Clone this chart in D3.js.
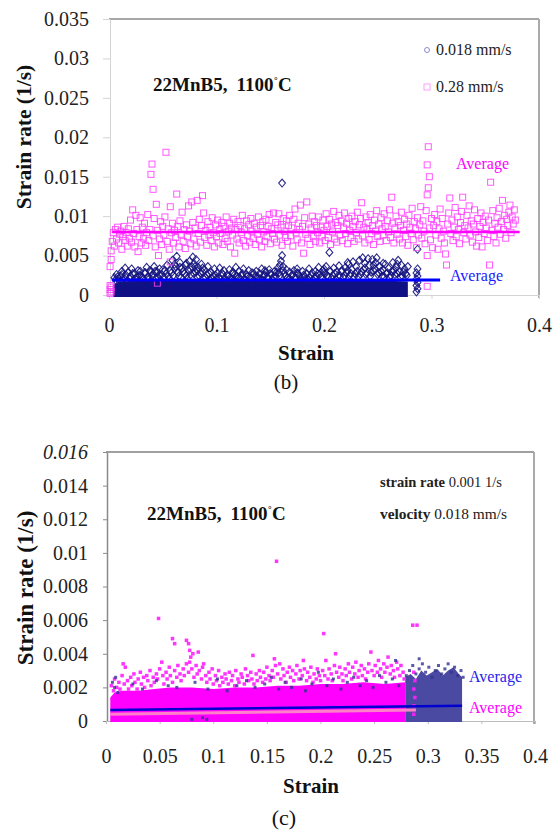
<!DOCTYPE html>
<html>
<head>
<meta charset="utf-8">
<script src="https://cdn.jsdelivr.net/npm/d3@7"></script>
<style>
  body { margin: 0; background: #fff; }
  svg { display: block; }
  svg text { font-family: "Liberation Serif", "DejaVu Serif", "Times New Roman", Times, serif !important; }
</style>
</head>
<body>
<svg id="chart" width="554" height="832"></svg>
<script>
// ---------- panel (b): 22MnB5, 1100 C, two ram velocities ----------
const xTicksB = [0, 0.1, 0.2, 0.3, 0.4];
const yTicksB = [0, 0.005, 0.01, 0.015, 0.02, 0.025, 0.03, 0.035];
const legendB = ['0.018 mm/s', '0.28 mm/s'];

// upper edge of the saturated 0.018 mm/s cloud [strain, strain rate]
const slowCoreB = [[0.004,0.0013],[0.01,0.0017],[0.03,0.0018],[0.06,0.0019],[0.09,0.0018],[0.12,0.0018],
  [0.15,0.0019],[0.18,0.0018],[0.21,0.0019],[0.24,0.0019],[0.26,0.0018],[0.278,0.0017]];

// 0.018 mm/s points above the saturated band
const slowPointsB = [
  [0.006,0.0019],[0.008,0.0023],[0.010,0.0017],[0.012,0.0026],[0.014,0.0021],[0.015,0.0034],[0.017,0.0018],[0.018,0.0029],
  [0.020,0.0024],[0.021,0.0033],[0.023,0.0019],[0.024,0.0027],[0.026,0.0022],[0.027,0.0017],[0.029,0.0030],[0.030,0.0024],
  [0.032,0.0020],[0.033,0.0028],[0.035,0.0035],[0.036,0.0023],[0.038,0.0031],[0.039,0.0018],[0.041,0.0027],[0.042,0.0036],
  [0.044,0.0021],[0.045,0.0029],[0.047,0.0025],[0.048,0.0019],[0.050,0.0032],[0.051,0.0022],[0.053,0.0027],[0.054,0.0038],
  [0.056,0.0020],[0.057,0.0031],[0.059,0.0044],[0.060,0.0025],[0.062,0.0036],[0.063,0.0049],[0.064,0.0029],[0.066,0.0041],
  [0.067,0.0022],[0.068,0.0034],[0.070,0.0027],[0.071,0.0038],[0.073,0.0020],[0.074,0.0031],[0.075,0.0043],[0.076,0.0026],
  [0.077,0.0036],[0.078,0.0048],[0.079,0.0040],[0.080,0.0030],[0.081,0.0045],[0.082,0.0023],[0.083,0.0035],[0.085,0.0028],
  [0.086,0.0039],[0.088,0.0021],[0.089,0.0032],[0.091,0.0026],[0.092,0.0036],[0.094,0.0019],[0.095,0.0029],[0.097,0.0024],
  [0.098,0.0033],[0.100,0.0021],[0.101,0.0028],[0.103,0.0034],[0.104,0.0020],[0.106,0.0026],[0.107,0.0031],[0.109,0.0018],
  [0.110,0.0025],[0.112,0.0032],[0.113,0.0022],[0.115,0.0029],[0.116,0.0019],[0.118,0.0035],[0.119,0.0024],[0.121,0.0030],
  [0.122,0.0021],[0.124,0.0027],[0.125,0.0033],[0.127,0.0019],[0.128,0.0026],[0.130,0.0031],[0.131,0.0023],[0.133,0.0028],
  [0.134,0.0018],[0.136,0.0024],[0.137,0.0030],[0.139,0.0021],[0.140,0.0027],[0.142,0.0033],[0.143,0.0019],[0.145,0.0025],
  [0.146,0.0029],[0.148,0.0022],[0.149,0.0032],[0.151,0.0026],[0.152,0.0020],[0.154,0.0030],[0.155,0.0024],[0.157,0.0034],
  [0.158,0.0028],[0.159,0.0038],[0.160,0.0043],[0.161,0.0050],[0.161,0.0142],[0.162,0.0036],[0.163,0.0027],[0.165,0.0032],
  [0.166,0.0022],[0.168,0.0029],[0.169,0.0019],[0.171,0.0026],[0.172,0.0031],[0.174,0.0021],[0.175,0.0028],[0.177,0.0024],
  [0.178,0.0018],[0.180,0.0030],[0.181,0.0025],[0.183,0.0020],[0.184,0.0027],[0.186,0.0033],[0.187,0.0022],[0.189,0.0028],
  [0.190,0.0019],[0.192,0.0030],[0.193,0.0024],[0.195,0.0035],[0.196,0.0026],[0.198,0.0021],[0.199,0.0031],[0.201,0.0027],
  [0.202,0.0036],[0.204,0.0023],[0.205,0.0054],[0.206,0.0030],[0.208,0.0025],[0.209,0.0034],[0.211,0.0020],[0.212,0.0029],
  [0.214,0.0037],[0.215,0.0024],[0.217,0.0031],[0.218,0.0022],[0.220,0.0035],[0.221,0.0028],[0.223,0.0039],[0.224,0.0025],
  [0.226,0.0032],[0.227,0.0042],[0.229,0.0027],[0.230,0.0036],[0.232,0.0023],[0.233,0.0044],[0.235,0.0030],[0.236,0.0047],
  [0.238,0.0034],[0.239,0.0026],[0.241,0.0046],[0.242,0.0038],[0.244,0.0029],[0.245,0.0045],[0.247,0.0033],[0.248,0.0041],
  [0.249,0.0047],[0.251,0.0028],[0.252,0.0036],[0.254,0.0024],[0.255,0.0032],[0.257,0.0039],[0.258,0.0027],[0.260,0.0034],
  [0.261,0.0022],[0.263,0.0030],[0.264,0.0041],[0.266,0.0026],[0.267,0.0035],[0.269,0.0044],[0.270,0.0029],[0.272,0.0038],
  [0.273,0.0024],[0.275,0.0033],[0.276,0.0027],[0.278,0.0036],
  [0.005,0.0022],[0.007,0.0026],[0.009,0.0021],[0.011,0.0024],[0.013,0.0019],[0.016,0.0025],[0.019,0.0021],[0.022,0.0027],
  [0.025,0.0020],[0.028,0.0025],[0.031,0.0022],[0.034,0.0028],[0.037,0.0020],[0.040,0.0024],[0.043,0.0030],[0.046,0.0022],
  [0.049,0.0026],[0.052,0.0031],[0.055,0.0024],[0.058,0.0028],[0.061,0.0033],[0.065,0.0024],[0.069,0.0030],[0.072,0.0025],
  [0.076,0.0032],[0.079,0.0027],[0.082,0.0031],[0.084,0.0024],[0.087,0.0029],[0.090,0.0022],[0.093,0.0027],[0.096,0.0021],
  [0.099,0.0025],[0.102,0.0022],[0.105,0.0028],[0.108,0.0021],[0.111,0.0024],[0.114,0.0020],[0.117,0.0026],[0.120,0.0022],
  [0.123,0.0025],[0.126,0.0020],[0.129,0.0024],[0.132,0.0021],[0.135,0.0027],[0.138,0.0023],[0.141,0.0020],[0.144,0.0025],
  [0.147,0.0022],[0.150,0.0027],[0.153,0.0023],[0.156,0.0029],[0.159,0.0025],[0.162,0.0031],[0.164,0.0024],[0.167,0.0020],
  [0.170,0.0025],[0.173,0.0022],[0.176,0.0027],[0.179,0.0021],[0.182,0.0024],[0.185,0.0020],[0.188,0.0025],[0.191,0.0022],
  [0.194,0.0027],[0.197,0.0023],[0.200,0.0029],[0.203,0.0025],[0.207,0.0021],[0.210,0.0027],[0.213,0.0024],[0.216,0.0030],
  [0.219,0.0025],[0.222,0.0031],[0.225,0.0027],[0.228,0.0023],[0.231,0.0030],[0.234,0.0026],[0.237,0.0032],[0.240,0.0028],
  [0.243,0.0024],[0.246,0.0031],[0.250,0.0026],[0.253,0.0030],[0.256,0.0023],[0.259,0.0028],[0.262,0.0025],[0.265,0.0031],
  [0.268,0.0027],[0.271,0.0023],[0.274,0.0029],[0.277,0.0025],
  [0.012,0.0030],[0.027,0.0031],[0.039,0.0029],[0.047,0.0033],[0.061,0.0039],[0.066,0.0035],[0.072,0.0040],[0.080,0.0036],
  [0.087,0.0034],[0.115,0.0027],[0.145,0.0031],[0.175,0.0033],[0.200,0.0033],[0.222,0.0041],[0.238,0.0040],[0.246,0.0038],
  [0.255,0.0040],[0.268,0.0039],
  [0.286,0.0004],[0.287,0.0008],[0.286,0.0012],[0.287,0.0016],[0.286,0.0020],[0.287,0.0024],[0.286,0.0028],[0.287,0.0033],
  [0.287,0.0058]
];

// 0.28 mm/s points
const fastPointsB = [
  [0.001,0.0002],[0.001,0.0007],[0.001,0.0012],[0.002,0.0004],[0.002,0.0010],
  [0.001,0.0036],[0.002,0.0056],[0.002,0.0045],[0.003,0.0068],[0.004,0.0079],[0.005,0.0062],[0.006,0.0083],[0.007,0.0071],
  [0.008,0.0086],[0.009,0.0066],[0.010,0.0077],[0.011,0.0081],[0.012,0.0058],[0.013,0.0074],[0.014,0.0087],[0.015,0.0069],
  [0.016,0.0079],[0.017,0.0062],[0.018,0.0084],[0.019,0.0072],[0.020,0.0095],[0.021,0.0067],[0.022,0.0108],[0.023,0.0078],
  [0.024,0.0061],[0.025,0.0101],[0.026,0.0083],[0.027,0.0055],[0.028,0.0074],[0.029,0.0098],[0.030,0.0066],[0.031,0.0086],
  [0.032,0.0072],[0.033,0.0091],[0.034,0.0063],[0.035,0.0079],[0.036,0.0102],[0.037,0.0069],[0.038,0.0083],[0.039,0.0153],
  [0.040,0.0166],[0.041,0.0134],[0.041,0.0075],[0.042,0.0097],[0.043,0.0061],[0.044,0.0115],[0.045,0.0015],[0.045,0.0082],
  [0.046,0.0050],[0.047,0.0071],[0.048,0.0093],[0.049,0.0064],[0.050,0.0087],[0.051,0.0076],[0.052,0.0099],[0.053,0.0181],
  [0.054,0.0068],[0.055,0.0084],[0.056,0.0058],[0.057,0.0112],[0.057,0.0042],[0.058,0.0079],[0.059,0.0091],[0.060,0.0066],
  [0.061,0.0082],[0.062,0.0073],[0.063,0.0128],[0.064,0.0087],[0.065,0.0061],[0.066,0.0094],[0.067,0.0077],[0.068,0.0105],
  [0.069,0.0068],[0.070,0.0083],[0.071,0.0059],[0.072,0.0089],[0.073,0.0074],[0.074,0.0113],[0.075,0.0081],[0.076,0.0065],
  [0.077,0.0118],[0.078,0.0092],[0.079,0.0071],[0.080,0.0085],[0.081,0.0062],[0.082,0.0120],[0.083,0.0078],[0.084,0.0096],
  [0.085,0.0067],[0.086,0.0088],[0.087,0.0126],[0.088,0.0104],[0.089,0.0073],[0.090,0.0082],[0.091,0.0063],[0.092,0.0093],
  [0.093,0.0076],[0.094,0.0086],[0.095,0.0069],[0.096,0.0098],[0.097,0.0079],[0.098,0.0061],[0.099,0.0089],[0.100,0.0074],
  [0.101,0.0095],[0.102,0.0066],[0.103,0.0083],[0.104,0.0078],[0.105,0.0092],[0.106,0.0064],[0.107,0.0087],[0.108,0.0072],
  [0.109,0.0099],[0.110,0.0068],[0.111,0.0081],[0.112,0.0091],[0.113,0.0061],[0.114,0.0085],[0.115,0.0076],[0.116,0.0096],
  [0.117,0.0053],[0.118,0.0083],[0.119,0.0071],[0.120,0.0093],[0.121,0.0066],[0.122,0.0088],[0.123,0.0079],[0.124,0.0101],
  [0.125,0.0069],[0.126,0.0084],[0.127,0.0062],[0.128,0.0094],[0.129,0.0075],[0.130,0.0089],[0.131,0.0067],[0.132,0.0097],
  [0.133,0.0081],[0.134,0.0072],[0.135,0.0091],[0.136,0.0064],[0.137,0.0086],[0.138,0.0077],[0.139,0.0099],[0.140,0.0070],
  [0.141,0.0088],[0.142,0.0061],[0.143,0.0093],[0.144,0.0080],[0.145,0.0068],[0.146,0.0096],[0.147,0.0074],[0.148,0.0087],
  [0.149,0.0102],[0.150,0.0065],[0.151,0.0084],[0.152,0.0078],[0.153,0.0104],[0.154,0.0071],[0.155,0.0092],[0.156,0.0067],
  [0.157,0.0089],[0.158,0.0103],[0.159,0.0076],[0.160,0.0086],[0.161,0.0063],[0.162,0.0097],[0.163,0.0081],[0.164,0.0073],
  [0.165,0.0094],[0.166,0.0068],[0.167,0.0088],[0.168,0.0101],[0.169,0.0075],[0.170,0.0085],[0.171,0.0062],[0.172,0.0096],
  [0.173,0.0109],[0.174,0.0079],[0.175,0.0070],[0.176,0.0091],[0.177,0.0083],[0.178,0.0114],[0.179,0.0066],[0.180,0.0087],
  [0.181,0.0053],[0.182,0.0098],[0.183,0.0077],[0.184,0.0118],[0.185,0.0072],[0.186,0.0090],[0.187,0.0064],[0.188,0.0085],
  [0.189,0.0100],[0.190,0.0074],[0.191,0.0093],[0.192,0.0068],[0.193,0.0088],[0.194,0.0079],[0.195,0.0099],[0.196,0.0066],
  [0.197,0.0086],[0.198,0.0075],[0.199,0.0095],[0.200,0.0082],[0.201,0.0069],[0.202,0.0103],[0.203,0.0087],[0.204,0.0073],
  [0.205,0.0096],[0.206,0.0064],[0.207,0.0090],[0.208,0.0080],[0.209,0.0106],[0.210,0.0071],[0.211,0.0092],[0.212,0.0067],
  [0.213,0.0088],[0.214,0.0101],[0.215,0.0076],[0.216,0.0094],[0.217,0.0069],[0.218,0.0085],[0.219,0.0104],[0.220,0.0078],
  [0.221,0.0091],[0.222,0.0065],[0.223,0.0097],[0.224,0.0082],[0.225,0.0073],[0.226,0.0100],[0.227,0.0087],[0.228,0.0068],
  [0.229,0.0093],[0.230,0.0079],[0.231,0.0105],[0.232,0.0071],[0.233,0.0089],[0.234,0.0097],[0.235,0.0117],[0.236,0.0075],
  [0.237,0.0086],[0.238,0.0066],[0.239,0.0099],[0.240,0.0083],[0.241,0.0092],[0.242,0.0070],[0.243,0.0102],[0.244,0.0078],
  [0.245,0.0088],[0.246,0.0064],[0.247,0.0095],[0.248,0.0081],[0.249,0.0107],[0.250,0.0074],[0.251,0.0090],[0.252,0.0068],
  [0.253,0.0098],[0.254,0.0084],[0.255,0.0076],[0.256,0.0103],[0.257,0.0087],[0.258,0.0069],[0.259,0.0094],[0.260,0.0080],
  [0.261,0.0108],[0.262,0.0073],[0.263,0.0124],[0.264,0.0091],[0.265,0.0066],[0.266,0.0085],[0.267,0.0100],[0.268,0.0077],
  [0.269,0.0093],[0.270,0.0071],[0.271,0.0088],[0.272,0.0105],[0.273,0.0066],[0.274,0.0082],[0.275,0.0096],[0.276,0.0074],
  [0.277,0.0090],[0.278,0.0063],[0.279,0.0101],[0.280,0.0086],[0.281,0.0078],[0.282,0.0110],[0.283,0.0070],[0.284,0.0093],
  [0.285,0.0084],[0.286,0.0060],[0.287,0.0098],[0.288,0.0076],[0.289,0.0089],[0.290,0.0112],[0.291,0.0072],[0.292,0.0094],
  [0.293,0.0081],[0.294,0.0065],[0.295,0.0107],[0.296,0.0127],[0.296,0.0050],[0.296,0.0011],[0.296,0.0165],[0.297,0.0136],
  [0.297,0.0188],[0.298,0.0150],[0.298,0.0085],[0.299,0.0070],[0.300,0.0097],[0.301,0.0060],[0.302,0.0088],[0.303,0.0102],
  [0.304,0.0076],[0.305,0.0093],[0.306,0.0058],[0.307,0.0084],[0.308,0.0109],[0.309,0.0072],[0.310,0.0097],[0.311,0.0081],
  [0.312,0.0066],[0.313,0.0052],[0.314,0.0038],[0.315,0.0090],[0.316,0.0104],[0.317,0.0123],[0.318,0.0078],[0.319,0.0095],
  [0.320,0.0069],[0.321,0.0086],[0.322,0.0111],[0.323,0.0074],[0.324,0.0099],[0.325,0.0083],[0.326,0.0065],[0.327,0.0092],
  [0.328,0.0106],[0.329,0.0124],[0.330,0.0079],[0.331,0.0088],[0.332,0.0071],[0.333,0.0101],[0.334,0.0085],[0.335,0.0113],
  [0.336,0.0076],[0.337,0.0094],[0.338,0.0067],[0.339,0.0090],[0.340,0.0108],[0.341,0.0080],[0.342,0.0062],[0.343,0.0097],
  [0.344,0.0073],[0.345,0.0087],[0.346,0.0104],[0.347,0.0061],[0.348,0.0092],[0.349,0.0078],[0.350,0.0100],[0.351,0.0085],
  [0.352,0.0069],[0.353,0.0095],[0.354,0.0038],[0.355,0.0143],[0.356,0.0082],[0.357,0.0107],[0.358,0.0074],[0.359,0.0091],
  [0.360,0.0066],[0.361,0.0098],[0.362,0.0086],[0.363,0.0110],[0.364,0.0077],[0.365,0.0093],[0.366,0.0120],[0.367,0.0083],
  [0.368,0.0101],[0.369,0.0072],[0.370,0.0096],[0.371,0.0088],[0.372,0.0105],[0.373,0.0114],[0.374,0.0079],[0.375,0.0099],
  [0.376,0.0090],[0.377,0.0108],[0.378,0.0095]
];

const slowAvgB = [[0.003, 0.0019], [0.308, 0.0019]];
const fastAvgB = [[0.003, 0.008], [0.382, 0.008]];

// ---------- panel (c): same strain rate 0.001 1/s, velocity 0.018 mm/s ----------
const xTicksC = [0, 0.05, 0.1, 0.15, 0.2, 0.25, 0.3, 0.35, 0.4];
const yTicksC = [0, 0.002, 0.004, 0.006, 0.008, 0.01, 0.012, 0.014, 0.016];

// upper edge of the saturated magenta cloud
const fastCoreC = [[0.004,0.0014],[0.008,0.0017],[0.015,0.0018],[0.03,0.0018],[0.045,0.0019],[0.06,0.0020],[0.08,0.0020],
  [0.1,0.0019],[0.12,0.0020],[0.14,0.0020],[0.16,0.0021],[0.18,0.0021],[0.2,0.0022],[0.22,0.0022],[0.24,0.0023],
  [0.26,0.0022],[0.279,0.0023]];
// upper edge of the blue cloud beyond the end of the magenta one
const slowCoreC = [[0.279,0.0026],[0.284,0.0028],[0.289,0.0025],[0.294,0.0030],[0.299,0.0027],[0.304,0.0029],[0.309,0.0031],
  [0.314,0.0027],[0.319,0.0030],[0.324,0.0032],[0.329,0.0028],[0.332,0.0026]];

const fastPointsC = [
  [0.005,0.0021],[0.007,0.0018],[0.008,0.0025],[0.010,0.0020],[0.012,0.0023],[0.013,0.0019],[0.015,0.0027],[0.016,0.0034],
  [0.017,0.0022],[0.018,0.0032],[0.020,0.0024],[0.021,0.0019],[0.023,0.0026],[0.024,0.0021],[0.026,0.0028],[0.027,0.0023],
  [0.029,0.0019],[0.030,0.0025],[0.032,0.0029],[0.033,0.0022],[0.035,0.0026],[0.036,0.0020],[0.038,0.0027],[0.039,0.0024],
  [0.041,0.0030],[0.042,0.0021],[0.044,0.0026],[0.045,0.0023],[0.047,0.0028],[0.048,0.0025],[0.049,0.0061],[0.050,0.0031],
  [0.052,0.0035],[0.053,0.0027],[0.054,0.0022],[0.056,0.0029],[0.057,0.0025],[0.059,0.0032],[0.060,0.0027],[0.062,0.0049],
  [0.062,0.0023],[0.064,0.0046],[0.064,0.0030],[0.066,0.0026],[0.067,0.0033],[0.069,0.0028],[0.070,0.0024],[0.072,0.0031],
  [0.073,0.0027],[0.075,0.0048],[0.075,0.0034],[0.077,0.0046],[0.077,0.0029],[0.078,0.0042],[0.078,0.0035],[0.079,0.0038],
  [0.080,0.0031],[0.081,0.0040],[0.082,0.0026],[0.084,0.0033],[0.085,0.0028],[0.086,0.0041],[0.087,0.0030],[0.089,0.0025],
  [0.090,0.0032],[0.091,0.0034],[0.093,0.0027],[0.094,0.0023],[0.096,0.0029],[0.097,0.0025],[0.099,0.0031],[0.100,0.0022],
  [0.102,0.0027],[0.103,0.0024],[0.105,0.0030],[0.106,0.0021],[0.108,0.0026],[0.109,0.0023],[0.111,0.0028],[0.112,0.0025],
  [0.114,0.0022],[0.115,0.0029],[0.117,0.0024],[0.118,0.0027],[0.120,0.0021],[0.121,0.0030],[0.123,0.0025],[0.124,0.0023],
  [0.126,0.0028],[0.127,0.0026],[0.129,0.0022],[0.130,0.0031],[0.132,0.0027],[0.133,0.0024],[0.135,0.0029],[0.136,0.0025],
  [0.137,0.0039],[0.138,0.0022],[0.140,0.0028],[0.141,0.0024],[0.143,0.0030],[0.144,0.0026],[0.146,0.0023],[0.147,0.0029],
  [0.149,0.0025],[0.150,0.0032],[0.152,0.0027],[0.153,0.0024],[0.155,0.0030],[0.156,0.0026],[0.157,0.0037],[0.158,0.0033],
  [0.159,0.0095],[0.160,0.0028],[0.162,0.0034],[0.163,0.0025],[0.165,0.0031],[0.166,0.0027],[0.168,0.0023],[0.169,0.0029],
  [0.171,0.0032],[0.172,0.0026],[0.174,0.0030],[0.175,0.0024],[0.177,0.0028],[0.178,0.0033],[0.180,0.0025],[0.181,0.0030],
  [0.183,0.0027],[0.184,0.0036],[0.185,0.0031],[0.187,0.0024],[0.188,0.0029],[0.190,0.0026],[0.191,0.0032],[0.193,0.0023],
  [0.194,0.0028],[0.196,0.0025],[0.197,0.0031],[0.199,0.0027],[0.200,0.0024],[0.202,0.0030],[0.203,0.0052],[0.204,0.0027],
  [0.205,0.0036],[0.207,0.0025],[0.208,0.0031],[0.210,0.0028],[0.211,0.0024],[0.213,0.0033],[0.214,0.0040],[0.215,0.0029],
  [0.217,0.0026],[0.218,0.0032],[0.220,0.0028],[0.221,0.0024],[0.223,0.0031],[0.224,0.0027],[0.226,0.0034],[0.227,0.0029],
  [0.229,0.0025],[0.230,0.0032],[0.232,0.0028],[0.233,0.0035],[0.235,0.0026],[0.236,0.0030],[0.238,0.0033],[0.239,0.0027],
  [0.241,0.0031],[0.242,0.0025],[0.244,0.0029],[0.245,0.0034],[0.247,0.0041],[0.248,0.0030],[0.250,0.0027],[0.251,0.0033],
  [0.253,0.0029],[0.254,0.0036],[0.256,0.0031],[0.257,0.0026],[0.259,0.0034],[0.260,0.0029],[0.262,0.0032],[0.263,0.0038],
  [0.265,0.0028],[0.266,0.0033],[0.268,0.0030],[0.269,0.0026],[0.271,0.0035],[0.272,0.0031],[0.274,0.0027],[0.275,0.0033],
  [0.277,0.0029],[0.278,0.0025],
  [0.287,0.0004],[0.287,0.0009],[0.288,0.0014],[0.287,0.0019],[0.288,0.0024],[0.287,0.0029],[0.286,0.0057],[0.290,0.0057]
];

const slowPointsC = [
  [0.006,0.0023],[0.008,0.0020],[0.009,0.0026],[0.011,0.0017],[0.025,0.0022],[0.034,0.0019],[0.047,0.0024],[0.058,0.0021],
  [0.066,0.0020],[0.083,0.0023],[0.095,0.0019],[0.104,0.0025],[0.113,0.0018],[0.122,0.0021],[0.131,0.0024],[0.139,0.0020],
  [0.148,0.0022],[0.154,0.0026],[0.161,0.0019],[0.167,0.0023],[0.173,0.0020],[0.182,0.0025],[0.186,0.0018],[0.192,0.0022],
  [0.198,0.0029],[0.206,0.0021],[0.212,0.0025],[0.219,0.0019],[0.225,0.0023],[0.231,0.0026],[0.237,0.0021],[0.243,0.0024],
  [0.249,0.0020],[0.255,0.0027],[0.261,0.0023],[0.267,0.0025],[0.273,0.0021],[0.270,0.0036],
  [0.080,0.0001],[0.090,0.0002],[0.094,0.0001],
  [0.280,0.0027],[0.283,0.0030],[0.286,0.0033],[0.289,0.0028],[0.292,0.0031],[0.292,0.0037],[0.295,0.0034],[0.298,0.0029],
  [0.301,0.0032],[0.304,0.0026],[0.307,0.0030],[0.310,0.0033],[0.313,0.0028],[0.316,0.0031],[0.319,0.0034],[0.322,0.0029],
  [0.325,0.0032],[0.328,0.0027],[0.331,0.0030],[0.333,0.0026]
];

const slowAvgC = [[0.004, 0.00065], [0.332, 0.0009]];
const fastAvgC = [[0.004, 0.0004], [0.289, 0.00065]];

const svg = d3.select('#chart');
const serif = '"Liberation Serif", "DejaVu Serif", "Times New Roman", Times, serif';
const fmt = d3.format('~g');
const line = (x, y) => d3.line().x(d => x(d[0])).y(d => y(d[1]));
const diamond = 'M0,-4L3.4,0L0,4L-3.4,0Z';

// ===================== panel (b) =====================
const xB = d3.scaleLinear().domain([0, 0.4]).range([109, 539]);
const yB = d3.scaleLinear().domain([0, 0.035]).range([295, 19]);

// frame: top and right
svg.append('line').attr('x1', xB(0)).attr('x2', xB(0.4)).attr('y1', yB(0.035)).attr('y2', yB(0.035))
  .attr('stroke', '#888').attr('stroke-width', 1.5);
svg.append('line').attr('x1', xB(0.4)).attr('x2', xB(0.4)).attr('y1', yB(0.035)).attr('y2', yB(0) + 3)
  .attr('stroke', '#aaa').attr('stroke-width', 2);

const yAxisB = svg.append('g').attr('transform', `translate(${xB(0) + 1},0)`)
  .call(d3.axisLeft(yB).tickValues(yTicksB).tickFormat(fmt).tickSize(7).tickPadding(14).tickSizeOuter(0));
const xAxisB = svg.append('g').attr('transform', `translate(0,${yB(0)})`)
  .call(d3.axisBottom(xB).tickValues(xTicksB).tickFormat(fmt).tickSize(4).tickPadding(19).tickSizeOuter(0));
[yAxisB, xAxisB].forEach(g => {
  g.attr('font-family', serif);
  g.select('.domain').attr('stroke', '#d4d4d4');
  g.selectAll('.tick line').attr('stroke', '#d4d4d4');
  g.selectAll('.tick text').attr('font-size', 20).attr('fill', '#222');
});

// 0.018 mm/s
svg.append('path').datum(slowCoreB)
  .attr('d', d3.area().x(d => xB(d[0])).y0(yB(0) + 2).y1(d => yB(d[1])))
  .attr('fill', '#101085');
svg.append('g').selectAll('path').data(slowPointsB).enter().append('path')
  .attr('transform', d => `translate(${xB(d[0])},${yB(d[1])})`)
  .attr('d', diamond).attr('fill', 'none').attr('stroke', '#15157f').attr('stroke-width', 1.1).attr('stroke-opacity', 0.9);

// 0.28 mm/s
svg.append('g').selectAll('rect').data(fastPointsB).enter().append('rect')
  .attr('x', d => xB(d[0]) - 3).attr('y', d => yB(d[1]) - 3)
  .attr('width', 6).attr('height', 6)
  .attr('fill', 'none').attr('stroke', '#ff3cff').attr('stroke-width', 1).attr('stroke-opacity', 0.85);

// averages
svg.append('path').datum(fastAvgB).attr('d', line(xB, yB)).attr('stroke', '#ff00ff').attr('stroke-width', 2.5).attr('fill', 'none');
svg.append('path').datum(slowAvgB).attr('d', line(xB, yB)).attr('stroke', '#0000ff').attr('stroke-width', 3).attr('fill', 'none');

// legend
svg.append('circle').attr('cx', 427).attr('cy', 50).attr('r', 2.5).attr('fill', 'none').attr('stroke', '#8c8cd0');
svg.append('rect').attr('x', 424).attr('y', 84).attr('width', 6).attr('height', 6).attr('fill', 'none').attr('stroke', '#ff9cff');
svg.append('text').attr('x', 436).attr('y', 55).attr('font-size', 16).attr('fill', '#222').text(legendB[0]);
svg.append('text').attr('x', 436).attr('y', 92).attr('font-size', 16).attr('fill', '#222').text(legendB[1]);

svg.append('text').attr('x', 456).attr('y', 169).attr('font-size', 16).attr('fill', '#ff00ff').text('Average');
svg.append('text').attr('x', 450).attr('y', 281).attr('font-size', 16).attr('fill', '#1a1aff').text('Average');

const titleB = svg.append('text').attr('x', 153).attr('y', 91).attr('font-size', 19).attr('font-weight', 'bold').attr('fill', '#111');
titleB.append('tspan').text('22MnB5,');
titleB.append('tspan').attr('dx', 9).text('1100');
titleB.append('tspan').attr('font-weight', 'normal').attr('font-size', 14).attr('dy', -3).text('˚');
titleB.append('tspan').attr('dy', 3).text('C');

svg.append('text').attr('transform', 'translate(31,137) rotate(-90)').attr('text-anchor', 'middle')
  .attr('font-size', 21.5).attr('font-weight', 'bold').attr('fill', '#111').text('Strain rate (1/s)');
svg.append('text').attr('x', 306).attr('y', 360).attr('text-anchor', 'middle')
  .attr('font-size', 21).attr('font-weight', 'bold').attr('fill', '#111').text('Strain');
svg.append('text').attr('x', 286).attr('y', 389).attr('text-anchor', 'middle')
  .attr('font-size', 21).attr('fill', '#111').text('(b)');

// ===================== panel (c) =====================
const xC = d3.scaleLinear().domain([0, 0.4]).range([106, 535]);
const yC = d3.scaleLinear().domain([0, 0.016]).range([721, 452]);

svg.append('line').attr('x1', xC(0)).attr('x2', xC(0.4) - 1).attr('y1', yC(0.016)).attr('y2', yC(0.016))
  .attr('stroke', '#a0a0a0').attr('stroke-width', 2);
svg.append('line').attr('x1', xC(0.4) - 1).attr('x2', xC(0.4) - 1).attr('y1', yC(0.016)).attr('y2', yC(0) + 3)
  .attr('stroke', '#aaa').attr('stroke-width', 2);

const yAxisC = svg.append('g').attr('transform', `translate(${xC(0) + 1},0)`)
  .call(d3.axisLeft(yC).tickValues(yTicksC).tickFormat(fmt).tickSize(4).tickPadding(15).tickSizeOuter(0));
const xAxisC = svg.append('g').attr('transform', `translate(0,${yC(0)})`)
  .call(d3.axisBottom(xC).tickValues(xTicksC).tickFormat(fmt).tickSize(3).tickPadding(25).tickSizeOuter(0));
yAxisC.select('.domain').attr('stroke', '#8a8a8a').attr('stroke-width', 1.5);
yAxisC.selectAll('.tick line').attr('stroke', '#8a8a8a');
xAxisC.select('.domain').attr('stroke', '#bbb');
xAxisC.selectAll('.tick line').attr('stroke', '#bbb');
[yAxisC, xAxisC].forEach(g => {
  g.attr('font-family', serif);
  g.selectAll('.tick text').attr('font-size', 20).attr('fill', '#222');
});
yAxisC.selectAll('.tick text').filter(d => d === 0.016).attr('font-style', 'italic');

// blue cloud (0.018 mm/s) then magenta cloud
svg.append('path').datum(slowCoreC)
  .attr('d', d3.area().x(d => xC(d[0])).y0(yC(0) + 1).y1(d => yC(d[1])))
  .attr('fill', '#4a4aa2');
svg.append('path').datum(fastCoreC)
  .attr('d', d3.area().x(d => xC(d[0])).y0(yC(0) + 1).y1(d => yC(d[1])))
  .attr('fill', '#ff00ff');
svg.append('g').selectAll('rect').data(fastPointsC).enter().append('rect')
  .attr('x', d => xC(d[0]) - 1.75).attr('y', d => yC(d[1]) - 1.75)
  .attr('width', 3.5).attr('height', 3.5).attr('fill', '#ff1eff').attr('fill-opacity', 0.9);
svg.append('g').selectAll('rect').data(slowPointsC).enter().append('rect')
  .attr('x', d => xC(d[0]) - 1.5).attr('y', d => yC(d[1]) - 1.5)
  .attr('width', 3).attr('height', 3).attr('fill', '#32328f').attr('fill-opacity', 0.8);

svg.append('path').datum(slowAvgC).attr('d', line(xC, yC)).attr('stroke', '#0000d0').attr('stroke-width', 2.5).attr('fill', 'none');
svg.append('path').datum(fastAvgC).attr('d', line(xC, yC)).attr('stroke', '#ff80c8').attr('stroke-width', 3).attr('fill', 'none');

svg.append('text').attr('x', 469).attr('y', 682).attr('font-size', 16).attr('fill', '#2525e8').text('Average');
svg.append('text').attr('x', 469).attr('y', 713).attr('font-size', 16).attr('fill', '#ff00ff').text('Average');

const noteC1 = svg.append('text').attr('x', 380).attr('y', 487).attr('font-size', 14).attr('fill', '#222')
  .attr('textLength', 122).attr('lengthAdjust', 'spacingAndGlyphs');
noteC1.append('tspan').attr('font-weight', 'bold').text('strain rate ');
noteC1.append('tspan').text('0.001 1/s');
const noteC2 = svg.append('text').attr('x', 380).attr('y', 519).attr('font-size', 14).attr('fill', '#222')
  .attr('textLength', 127).attr('lengthAdjust', 'spacingAndGlyphs');
noteC2.append('tspan').attr('font-weight', 'bold').text('velocity ');
noteC2.append('tspan').text('0.018 mm/s');

const titleC = svg.append('text').attr('x', 147).attr('y', 520).attr('font-size', 19).attr('font-weight', 'bold').attr('fill', '#111');
titleC.append('tspan').text('22MnB5,');
titleC.append('tspan').attr('dx', 9).text('1100');
titleC.append('tspan').attr('font-weight', 'normal').attr('font-size', 14).attr('dy', -3).text('˚');
titleC.append('tspan').attr('dy', 3).text('C');

svg.append('text').attr('transform', 'translate(33,588) rotate(-90)').attr('text-anchor', 'middle')
  .attr('font-size', 23).attr('font-weight', 'bold').attr('fill', '#111').text('Strain rate (1/s)');
svg.append('text').attr('x', 311).attr('y', 793).attr('text-anchor', 'middle')
  .attr('font-size', 21).attr('font-weight', 'bold').attr('fill', '#111').text('Strain');
svg.append('text').attr('x', 284).attr('y', 825).attr('text-anchor', 'middle')
  .attr('font-size', 22).attr('fill', '#111').text('(c)');
</script>
</body>
</html>
